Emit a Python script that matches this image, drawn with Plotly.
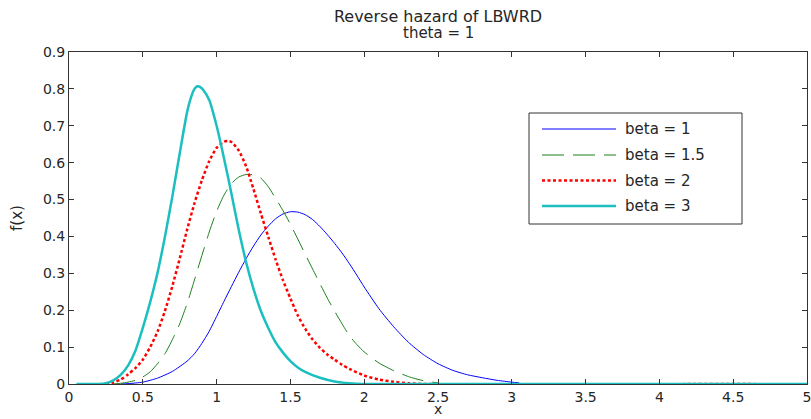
import plotly.graph_objects as go

# ---------------- data ----------------
x_beta1 = [0.35, 0.40, 0.50, 0.60, 0.70, 0.80, 0.85, 0.90, 0.95, 1.00, 1.05, 1.10, 1.15, 1.20,
           1.25, 1.30, 1.35, 1.40, 1.45, 1.50, 1.55, 1.60, 1.65, 1.70, 1.75, 1.80, 1.85, 1.90,
           1.95, 2.00, 2.10, 2.20, 2.30, 2.40, 2.50, 2.60, 2.70, 2.80, 2.90, 3.00, 3.05]
y_beta1 = [0.0, 0.001, 0.005, 0.016, 0.034, 0.062, 0.082, 0.110, 0.143, 0.183, 0.224, 0.264,
           0.303, 0.340, 0.374, 0.404, 0.428, 0.448, 0.461, 0.467, 0.466, 0.459, 0.446, 0.427,
           0.405, 0.381, 0.355, 0.326, 0.295, 0.263, 0.204, 0.155, 0.113, 0.080, 0.055, 0.037,
           0.025, 0.017, 0.010, 0.005, 0.003]

x_beta15 = [0.30, 0.35, 0.40, 0.45, 0.50, 0.55, 0.60, 0.65, 0.70, 0.75, 0.80, 0.85, 0.90, 0.95,
            1.00, 1.05, 1.10, 1.15, 1.20, 1.25, 1.30, 1.35, 1.40, 1.45, 1.50, 1.55, 1.60, 1.65,
            1.70, 1.75, 1.80, 1.85, 1.90, 1.95, 2.00, 2.10, 2.20, 2.30, 2.40, 2.50]
y_beta15 = [0.0, 0.002, 0.005, 0.010, 0.019, 0.033, 0.055, 0.082, 0.120, 0.163, 0.218, 0.282,
            0.348, 0.412, 0.468, 0.512, 0.543, 0.561, 0.568, 0.567, 0.558, 0.535, 0.503, 0.470,
            0.433, 0.393, 0.352, 0.312, 0.272, 0.233, 0.197, 0.163, 0.131, 0.107, 0.087, 0.057,
            0.036, 0.020, 0.009, 0.003]

x_beta2 = [0.25, 0.30, 0.35, 0.40, 0.45, 0.50, 0.55, 0.60, 0.65, 0.70, 0.75, 0.80, 0.85, 0.90,
           0.95, 1.00, 1.05, 1.075, 1.10, 1.15, 1.20, 1.25, 1.30, 1.35, 1.40, 1.45, 1.50, 1.55,
           1.60, 1.65, 1.70, 1.75, 1.80, 1.85, 1.90, 2.00, 2.10, 2.20, 2.30, 2.40, 4.65]
y_beta2 = [0.0, 0.004, 0.012, 0.026, 0.043, 0.066, 0.100, 0.142, 0.198, 0.265, 0.340, 0.418,
           0.490, 0.552, 0.604, 0.640, 0.657, 0.659, 0.656, 0.633, 0.590, 0.528, 0.462, 0.399,
           0.337, 0.281, 0.232, 0.186, 0.150, 0.121, 0.098, 0.080, 0.066, 0.052, 0.041, 0.023,
           0.012, 0.006, 0.002, 0.0, 0.0]

x_beta3 = [0.05, 0.20, 0.25, 0.30, 0.35, 0.40, 0.45, 0.50, 0.55, 0.60, 0.65, 0.70, 0.75, 0.80,
           0.825, 0.85, 0.87, 0.89, 0.91, 0.95, 1.00, 1.05, 1.10, 1.15, 1.20, 1.25, 1.30, 1.35,
           1.40, 1.45, 1.50, 1.55, 1.60, 1.70, 1.80, 1.90, 2.00, 5.00]
y_beta3 = [0.0, 0.0, 0.002, 0.010, 0.025, 0.050, 0.090, 0.152, 0.222, 0.302, 0.399, 0.508,
           0.625, 0.737, 0.775, 0.800, 0.807, 0.805, 0.797, 0.770, 0.700, 0.612, 0.517, 0.418,
           0.330, 0.258, 0.198, 0.152, 0.113, 0.085, 0.062, 0.045, 0.033, 0.017, 0.007, 0.002,
           0.0, 0.0]

series_names = ["beta = 1", "beta = 1.5", "beta = 2", "beta = 3"]
x_ticks = [0, 0.5, 1, 1.5, 2, 2.5, 3, 3.5, 4, 4.5, 5]
y_ticks = [0, 0.1, 0.2, 0.3, 0.4, 0.5, 0.6, 0.7, 0.8, 0.9]

# ---------------- styles ----------------
W, H = 811, 419
ML, MR, MT, MB = 69, 4, 52, 35
FONT = "DejaVu Sans, Arial, sans-serif"
FS = 15
FT = 14
TXT = "#262626"
AX = "#333333"

styles = [
    dict(color="#0000ff", width=1, dash="solid"),
    dict(color="#1a801a", width=1, dash="22px,9px"),
    dict(color="#ff0000", width=2.5, dash="3px,2.5px"),
    dict(color="#1bbfbf", width=2.5, dash="solid"),
]

def px2x(px):
    return (px - ML) / (W - ML - MR)

def py2y(py):
    return (H - MB - py) / (H - MT - MB)

fig = go.Figure()
for xs, ys, name, st in zip([x_beta1, x_beta15, x_beta2, x_beta3],
                            [y_beta1, y_beta15, y_beta2, y_beta3],
                            series_names, styles):
    fig.add_trace(go.Scatter(x=xs, y=ys, mode="lines", name=name,
                             line=dict(color=st["color"], width=st["width"], dash=st["dash"],
                                       shape="spline", smoothing=0.6),
                             showlegend=False))

axis_common = dict(showline=True, linecolor=AX, linewidth=1, mirror="allticks",
                   ticks="inside", ticklen=5, tickcolor=AX, tickwidth=1,
                   showgrid=False, zeroline=False, automargin=False,
                   ticklabeloverflow="allow",
                   tickfont=dict(family=FONT, size=FT, color=TXT))

fig.update_xaxes(range=[0, 5], tickvals=x_ticks, ticktext=[f"{v:g}" for v in x_ticks],
                 **axis_common)
fig.update_yaxes(range=[0, 0.9], tickvals=y_ticks, ticktext=[f"{v:g}" for v in y_ticks],
                 title=dict(text="f(x)", font=dict(family=FONT, size=FS, color=TXT), standoff=16),
                 **axis_common)

# custom legend box (MATLAB style)
lx0, lx1, ly0, ly1 = 529, 742, 113, 224
shapes = [dict(type="rect", xref="paper", yref="paper",
               x0=px2x(lx0), x1=px2x(lx1), y0=py2y(ly1), y1=py2y(ly0),
               line=dict(color=AX, width=1), fillcolor="white", layer="above")]
annotations = []
rows = [129, 155, 180.5, 206]
for name, st, ry in zip(series_names, styles, rows):
    shapes.append(dict(type="line", xref="paper", yref="paper",
                       x0=px2x(542), x1=px2x(616), y0=py2y(ry), y1=py2y(ry),
                       line=dict(color=st["color"], width=st["width"], dash=st["dash"]),
                       layer="above"))
    annotations.append(dict(text=name, xref="paper", yref="paper", x=px2x(623), y=py2y(ry),
                            xanchor="left", yanchor="middle", showarrow=False,
                            font=dict(family=FONT, size=FS, color=TXT)))

annotations.append(dict(text="theta = 1", xref="paper", yref="paper",
                        x=0.5, y=py2y(33), xanchor="center", yanchor="middle", showarrow=False,
                        font=dict(family=FONT, size=FS, color=TXT)))
# x-axis title
annotations.append(dict(text="x", xref="paper", yref="paper",
                        x=0.5, y=py2y(419), xanchor="center", yanchor="bottom", showarrow=False,
                        font=dict(family=FONT, size=FT, color=TXT)))

fig.update_layout(
    width=W, height=H,
    margin=dict(l=ML, r=MR, t=MT, b=MB, pad=0, autoexpand=False),
    paper_bgcolor="white", plot_bgcolor="white",
    title=dict(text="Reverse hazard of LBWRD", x=px2x(438) * (W - ML - MR) / W + ML / W,
               xanchor="center", y=1 - 16 / H, yanchor="middle", yref="container",
               font=dict(family=FONT, size=16, color=TXT)),
    shapes=shapes, annotations=annotations,
    showlegend=False,
)

fig.write_html("out.html")
